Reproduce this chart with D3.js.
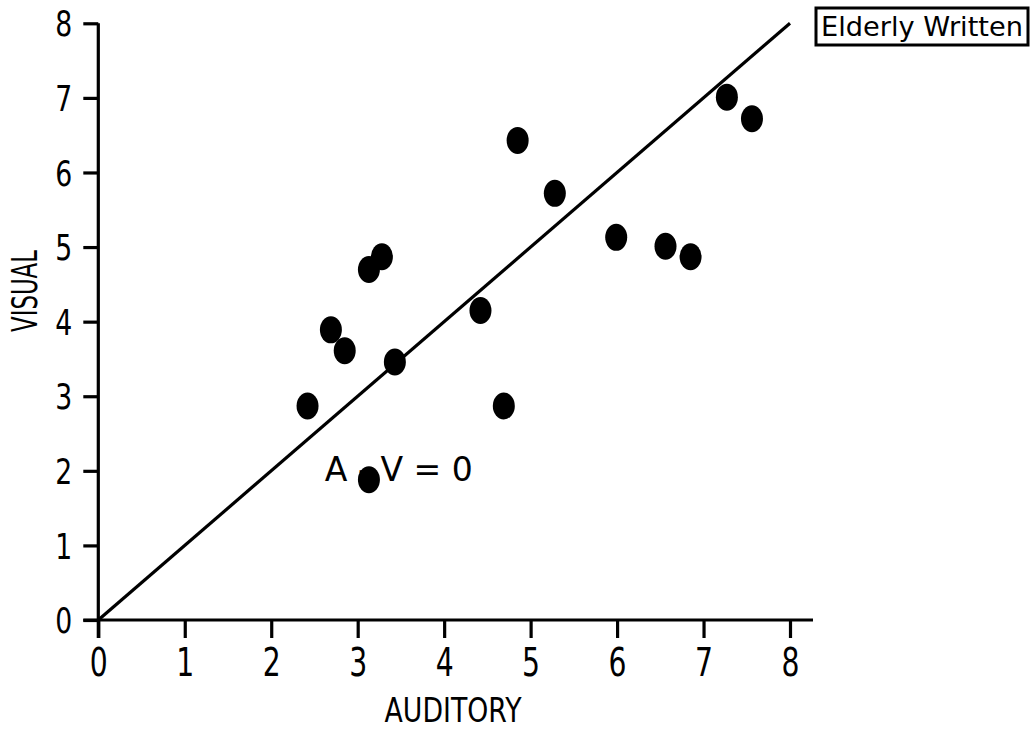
<!DOCTYPE html>
<html>
<head>
<meta charset="utf-8">
<script src="https://cdn.jsdelivr.net/npm/d3@7"></script>
<style>
  html, body { margin: 0; padding: 0; background: #fff; }
  svg { display: block; }
  text { font-family: "DejaVu Sans", sans-serif; fill: #000; }
</style>
</head>
<body>
<svg id="chart" width="1031" height="730"></svg>
<script>
// Auditory vs. visual scores, elderly group, written condition
const auditory = [3.13, 3.28, 2.69, 2.85, 3.43, 2.42, 3.13, 4.85, 5.28, 4.42, 4.69, 7.27, 7.56, 5.99, 6.56, 6.85];
const visual   = [4.70, 4.87, 3.89, 3.61, 3.46, 2.87, 1.88, 6.43, 5.72, 4.15, 2.87, 7.01, 6.72, 5.13, 5.01, 4.87];
const xTicks = [0, 1, 2, 3, 4, 5, 6, 7, 8];
const yTicks = [0, 1, 2, 3, 4, 5, 6, 7, 8];
const identityLine = [[0, 0], [8, 8]];
const groupLabel = "Elderly Written";
const lineLabel = "A - V = 0";

const svg = d3.select("#chart");
const x = d3.scaleLinear().domain([0, 8]).range([98.3, 790]);
const y = d3.scaleLinear().domain([0, 8]).range([620, 23.3]);

const ink = "#000";
const sw = 3.2;

// Axes
const xAxis = svg.append("g")
  .attr("transform", `translate(0,${y(0)})`)
  .call(d3.axisBottom(x).tickValues(xTicks).tickSize(18).tickPadding(10).tickFormat(d3.format("d")));
xAxis.select(".domain").remove();
xAxis.selectAll(".tick line").attr("stroke", ink).attr("stroke-width", sw);
xAxis.selectAll(".tick text")
  .attr("font-size", 39).attr("dy", "0.71em")
  .attr("textLength", 18).attr("lengthAdjust", "spacingAndGlyphs");

const yAxis = svg.append("g")
  .attr("transform", `translate(${x(0)},0)`)
  .call(d3.axisLeft(y).tickValues(yTicks).tickSize(15).tickPadding(11).tickFormat(d3.format("d")));
yAxis.select(".domain").remove();
yAxis.selectAll(".tick line").attr("stroke", ink).attr("stroke-width", sw);
yAxis.selectAll(".tick text")
  .attr("font-size", 35).attr("dy", "0.36em")
  .attr("textLength", 17).attr("lengthAdjust", "spacingAndGlyphs");

// Axis lines
svg.append("line")
  .attr("x1", x(0) - 15).attr("x2", x(8) + 23)
  .attr("y1", y(0)).attr("y2", y(0))
  .attr("stroke", ink).attr("stroke-width", sw);
svg.append("line")
  .attr("x1", x(0)).attr("x2", x(0))
  .attr("y1", y(8)).attr("y2", y(0) + 18)
  .attr("stroke", ink).attr("stroke-width", sw);

// Axis titles
svg.append("text")
  .attr("x", 453).attr("y", 722)
  .attr("text-anchor", "middle")
  .attr("font-size", 33)
  .attr("textLength", 137).attr("lengthAdjust", "spacingAndGlyphs")
  .text("AUDITORY");
svg.append("text")
  .attr("transform", "translate(37,291) rotate(-90)")
  .attr("text-anchor", "middle")
  .attr("font-size", 35)
  .attr("textLength", 82).attr("lengthAdjust", "spacingAndGlyphs")
  .text("VISUAL");

// Identity line A = V
svg.append("path")
  .attr("d", d3.line().x(d => x(d[0])).y(d => y(d[1]))(identityLine))
  .attr("fill", "none").attr("stroke", ink).attr("stroke-width", sw);

svg.append("text")
  .attr("x", x(2.62)).attr("y", y(1.87))
  .attr("font-size", 34)
  .attr("textLength", 148).attr("lengthAdjust", "spacingAndGlyphs")
  .text(lineLabel);

// Data points
svg.append("g").selectAll("ellipse")
  .data(auditory.map((a, i) => [a, visual[i]]))
  .join("ellipse")
  .attr("cx", d => x(d[0])).attr("cy", d => y(d[1]))
  .attr("rx", 11).attr("ry", 13.5)
  .attr("fill", ink);

// Group label box
const legend = svg.append("g");
legend.append("rect")
  .attr("x", 816).attr("y", 8).attr("width", 212).attr("height", 37)
  .attr("fill", "none").attr("stroke", ink).attr("stroke-width", 3);
legend.append("text")
  .attr("x", 821).attr("y", 36)
  .attr("font-size", 27)
  .attr("textLength", 202).attr("lengthAdjust", "spacingAndGlyphs")
  .text(groupLabel);
</script>
</body>
</html>
